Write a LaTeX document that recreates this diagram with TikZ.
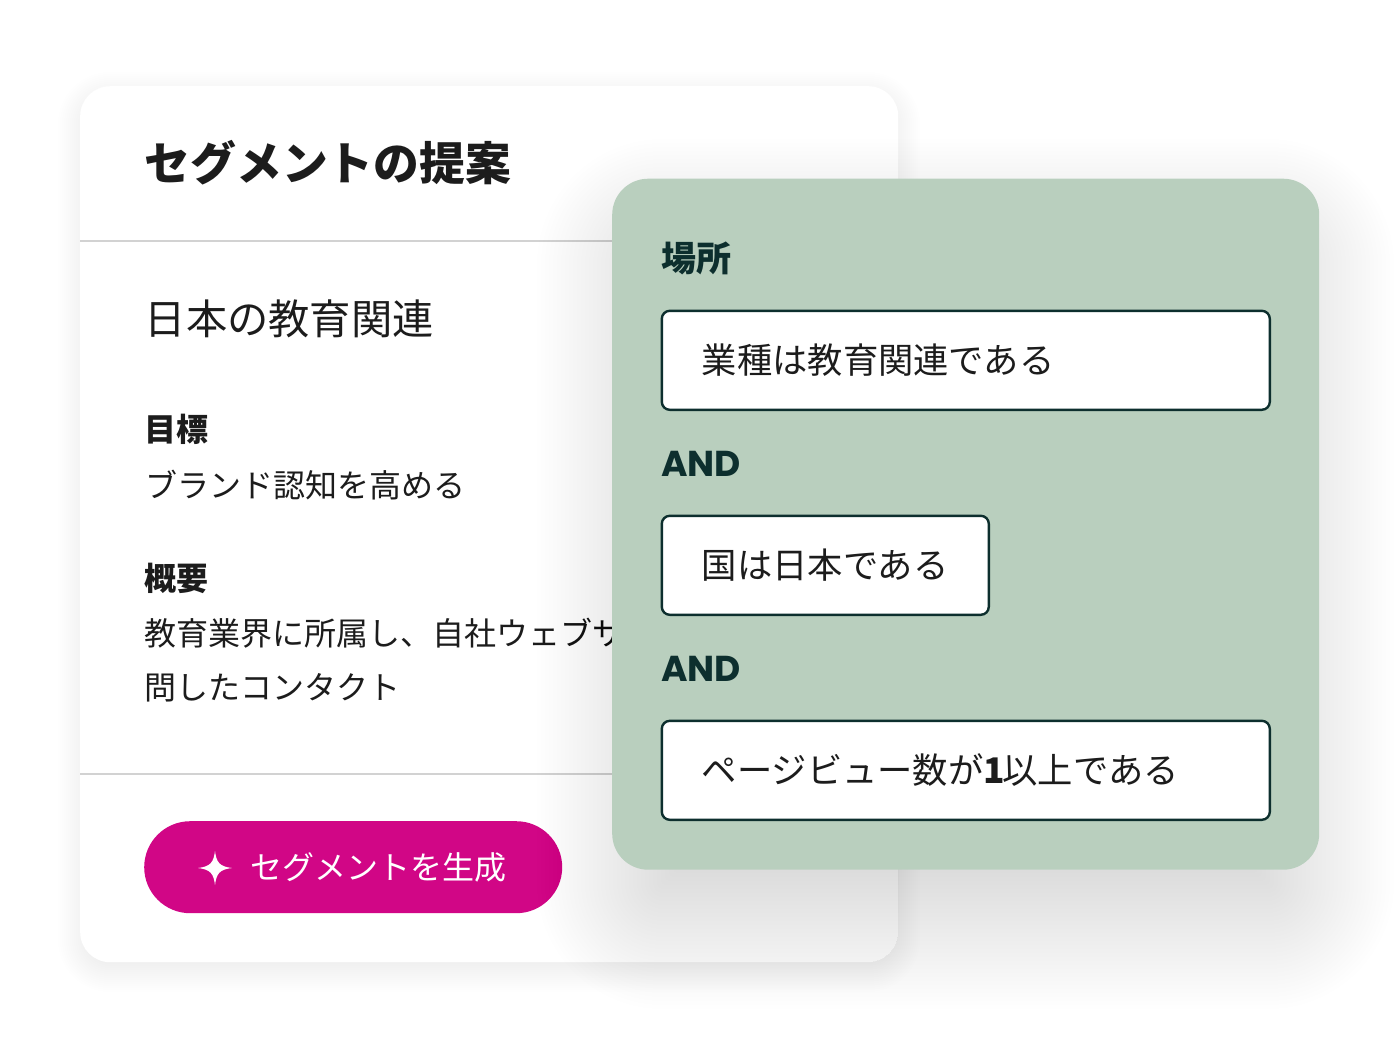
\documentclass[tikz,border=0pt]{standalone}
\usepackage{fontspec}
\setmainfont{Noto Sans CJK JP}
\newfontfamily\andfont{Poppins}
\definecolor{inkc}{HTML}{1C1C1C}
\definecolor{darkg}{HTML}{0D2F2E}
\definecolor{sage}{HTML}{B9CFBE}
\definecolor{ruleg}{HTML}{D2D2D2}
\definecolor{magen}{HTML}{D10686}
\tikzset{
  x=1pt,y=-1pt,
  txt/.style={anchor=west,inner sep=0pt,text=inkc},
  titletxt/.style={txt,text height=40.3pt,text depth=5.5pt,font=\fontsize{45.8}{50}\selectfont\bfseries},
  subtxt/.style={txt,text height=36.3pt,text depth=5pt,font=\fontsize{41.3}{46}\selectfont},
  headtxt/.style={txt,text height=28.2pt,text depth=3.8pt,font=\fontsize{32}{36}\selectfont\bfseries},
  bodytxt/.style={txt,text height=28.2pt,text depth=3.8pt,font=\fontsize{32}{36}\selectfont},
  greenhead/.style={txt,text=darkg,text height=30.8pt,text depth=4.2pt,font=\fontsize{35}{40}\selectfont\bfseries},
  andtxt/.style={txt,text=darkg,text height=25pt,text depth=0pt,font=\fontsize{36}{40}\andfont\bfseries},
  fieldbox/.style={draw=darkg,line width=2.4pt,fill=white,rounded corners=8pt,anchor=north west,
    minimum height=99pt,inner xsep=40pt,inner ysep=0pt,align=left,text=inkc,
    font=\fontsize{35.3}{40}\selectfont,text height=31pt,text depth=4.2pt},
  dividerline/.style={draw=ruleg,line width=2pt},
}
\begin{document}
\begin{tikzpicture}
\useasboundingbox (0,0) rectangle (1400,1050);
% white card shadow
\foreach \e in {22,20,...,-10}{
  \pgfmathsetmacro{\r}{max(30+\e,4)}
  \fill[black,fill opacity=0.0055,rounded corners=\r pt] (80-\e,94-\e) rectangle (898+\e,970+\e);
}
\node[fill=white,rounded corners=30pt,minimum width=818pt,minimum height=876pt,inner sep=0pt,anchor=north west] (card) at (80,86) {};
\node[titletxt] (title) at (144.5,163) {セグメントの提案};
\coordinate (ruleAL) at (80,241); \coordinate (ruleAR) at (898,241);
\draw[dividerline] (ruleAL) -- (ruleAR);
\node[subtxt] (sub) at (144.5,319) {日本の教育関連};
\node[headtxt] (goalh) at (144.5,429.5) {目標};
\node[bodytxt] (goal) at (145,485) {ブランド認知を高める};
\node[headtxt] (sumh) at (144,578) {概要};
\node[bodytxt] (sum1) at (144,633.5) {教育業界に所属し、自社ウェブサ};
\node[bodytxt] (sum2) at (144,687.5) {問したコンタクト};
\coordinate (ruleBL) at (80,774); \coordinate (ruleBR) at (898,774);
\draw[dividerline] (ruleBL) -- (ruleBR);
\node[fill=magen,rounded corners=46pt,minimum width=418pt,minimum height=92pt,inner sep=0pt,anchor=north west] (btn) at (144,821) {};
\fill[white] (215,851) .. controls (216.5,862) and (219,866.5) .. (232,868)
  .. controls (219,869.5) and (216.5,874) .. (215,885)
  .. controls (213.5,874) and (211,869.5) .. (198,868)
  .. controls (211,866.5) and (213.5,862) .. (215,851) -- cycle;
\node[bodytxt,text=white] (btntxt) at (250,867) {セグメントを生成};
% green card shadow
\foreach \e in {90,86,...,-50}{
  \pgfmathsetmacro{\r}{max(36+\e,4)}
  \fill[black,fill opacity=0.0029,rounded corners=\r pt] (627-\e,229-\e) rectangle (1304+\e,919+\e);
}
\node[fill=sage,rounded corners=36pt,minimum width=707pt,minimum height=691pt,inner sep=0pt,anchor=north west] (panel) at (612,178.5) {};
\node[greenhead] (place) at (661,258) {場所};
\node[fieldbox,minimum width=608pt,text width=528pt] (f1) at (660.6,309.6) {業種は教育関連である};
\node[andtxt] (and1) at (661,464) {AND};
\node[fieldbox,minimum width=327pt,text width=247pt] (f2) at (660.6,514.6) {国は日本である};
\node[andtxt] (and2) at (661,669) {AND};
\node[fieldbox,minimum width=608pt,text width=528pt] (f3) at (660.6,719.6) {ページビュー数が{\bfseries 1}\hspace{-2.5pt}以上である};
\end{tikzpicture}
\end{document}
